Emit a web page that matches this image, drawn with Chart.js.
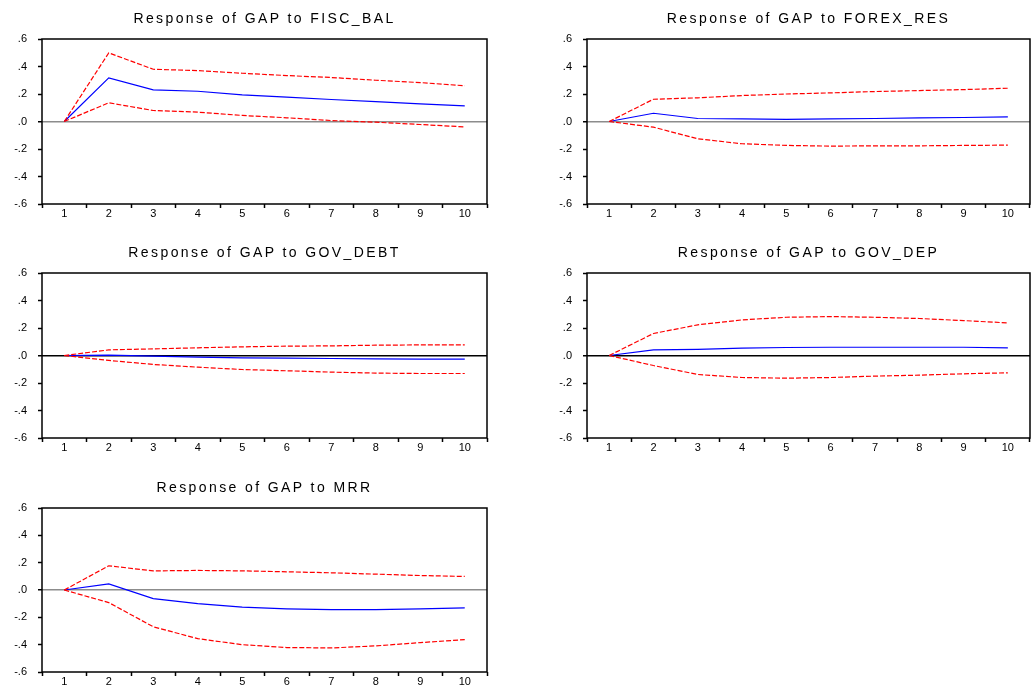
<!DOCTYPE html>
<html lang="en">
<head>
<meta charset="UTF-8">
<title>Impulse responses of GAP</title>
<script src="https://cdn.jsdelivr.net/npm/chart.js"></script>
<style>
  body { margin: 0; background: #ffffff; overflow: hidden; }
  .painel { position: absolute; }
  .titulo {
    position: absolute;
    text-align: center;
    font-family: "Liberation Sans", Arial, sans-serif;
    font-size: 14px;
    line-height: 16px;
    letter-spacing: 2.4px;
    color: #000000;
    white-space: nowrap;
  }
</style>
</head>
<body>
  <div class="painel" id="p1"><canvas id="g1"></canvas></div>
  <div class="painel" id="p2"><canvas id="g2"></canvas></div>
  <div class="painel" id="p3"><canvas id="g3"></canvas></div>
  <div class="painel" id="p4"><canvas id="g4"></canvas></div>
  <div class="painel" id="p5"><canvas id="g5"></canvas></div>

<script>
// periods after the shock
var periodos = ['1', '2', '3', '4', '5', '6', '7', '8', '9', '10'];

// response of GAP (blue) and +/- 2 S.E. bands (red)
var fiscBal    = [0, 0.317, 0.230, 0.220, 0.194, 0.177, 0.160, 0.145, 0.128, 0.114];
var fiscBalSup = [0, 0.499, 0.380, 0.370, 0.351, 0.334, 0.320, 0.300, 0.283, 0.260];
var fiscBalInf = [0, 0.136, 0.080, 0.068, 0.044, 0.027, 0.007, -0.005, -0.022, -0.039];

var forexRes    = [0, 0.060, 0.022, 0.019, 0.015, 0.019, 0.022, 0.027, 0.029, 0.034];
var forexResSup = [0, 0.162, 0.172, 0.189, 0.200, 0.208, 0.218, 0.225, 0.232, 0.242];
var forexResInf = [0, -0.041, -0.126, -0.162, -0.174, -0.179, -0.177, -0.177, -0.174, -0.172];

var govDebt    = [0, 0.002, -0.005, -0.012, -0.017, -0.019, -0.022, -0.024, -0.027, -0.027];
var govDebtSup = [0, 0.041, 0.048, 0.056, 0.063, 0.068, 0.070, 0.075, 0.077, 0.077];
var govDebtInf = [0, -0.036, -0.065, -0.085, -0.102, -0.111, -0.121, -0.128, -0.131, -0.131];

var govDep    = [0, 0.041, 0.044, 0.053, 0.058, 0.060, 0.060, 0.060, 0.060, 0.056];
var govDepSup = [0, 0.160, 0.223, 0.259, 0.278, 0.283, 0.278, 0.269, 0.254, 0.237];
var govDepInf = [0, -0.073, -0.138, -0.160, -0.165, -0.160, -0.150, -0.143, -0.133, -0.126];

var mrr    = [0, 0.044, -0.063, -0.099, -0.126, -0.138, -0.143, -0.143, -0.138, -0.131];
var mrrSup = [0, 0.177, 0.140, 0.143, 0.140, 0.133, 0.126, 0.116, 0.106, 0.099];
var mrrInf = [0, -0.092, -0.269, -0.356, -0.400, -0.421, -0.424, -0.409, -0.385, -0.363];

var titulos = [
  'Response of GAP to FISC_BAL',
  'Response of GAP to FOREX_RES',
  'Response of GAP to GOV_DEBT',
  'Response of GAP to GOV_DEP',
  'Response of GAP to MRR'
];

// plot area of each panel on the page
var paineis = [
  { div: 'p1', canvas: 'g1', titulo: titulos[0], resp: fiscBal, sup: fiscBalSup, inf: fiscBalInf, l: 42, t: 39, r: 487, b: 204, folga: 6, zero: '#8c8c8c' },
  { div: 'p2', canvas: 'g2', titulo: titulos[1], resp: forexRes, sup: forexResSup, inf: forexResInf, l: 587, t: 39, r: 1030, b: 204, folga: 2, zero: '#8c8c8c' },
  { div: 'p3', canvas: 'g3', titulo: titulos[2], resp: govDebt, sup: govDebtSup, inf: govDebtInf, l: 42, t: 273, r: 487, b: 438, folga: 6, zero: '#000000' },
  { div: 'p4', canvas: 'g4', titulo: titulos[3], resp: govDep, sup: govDepSup, inf: govDepInf, l: 587, t: 273, r: 1030, b: 438, folga: 2, zero: '#000000' },
  { div: 'p5', canvas: 'g5', titulo: titulos[4], resp: mrr, sup: mrrSup, inf: mrrInf, l: 42, t: 508, r: 487, b: 672, folga: 6, zero: '#8c8c8c' }
];

var LARG_Y = 42;
var ALT_TOPO = 36;
var ALT_X = 28;
var FONTE = '"Liberation Sans", Arial, sans-serif';

// box around the plot area
var moldura = {
  id: 'moldura',
  afterDatasetsDraw: function (chart) {
    var ctx = chart.ctx;
    var a = chart.chartArea;
    ctx.save();
    ctx.strokeStyle = '#000000';
    ctx.lineWidth = 1.5;
    ctx.strokeRect(a.left, a.top, a.right - a.left, a.bottom - a.top);
    ctx.restore();
  }
};

function rotuloY(valor) {
  var s = Number(valor).toFixed(1);
  if (s === '-0.0') s = '0.0';
  return s.replace('0.', '.');
}

function desenhar(p) {
  var caixa = document.getElementById(p.div);
  caixa.style.left = (p.l - LARG_Y) + 'px';
  caixa.style.top = (p.t - ALT_TOPO) + 'px';
  caixa.style.width = (p.r - p.l + LARG_Y + p.folga) + 'px';
  caixa.style.height = (p.b - p.t + ALT_TOPO + ALT_X) + 'px';

  var tit = document.createElement('div');
  tit.className = 'titulo';
  tit.textContent = p.titulo;
  tit.style.left = p.l + 'px';
  tit.style.width = (p.r - p.l) + 'px';
  tit.style.top = (p.t - 29) + 'px';
  document.body.appendChild(tit);

  new Chart(document.getElementById(p.canvas), {
    type: 'line',
    data: {
      labels: periodos,
      datasets: [
        { data: p.sup, borderColor: '#ff0000', borderWidth: 1.2, borderDash: [5, 2], pointRadius: 0, fill: false },
        { data: p.inf, borderColor: '#ff0000', borderWidth: 1.2, borderDash: [5, 2], pointRadius: 0, fill: false },
        { data: p.resp, borderColor: '#0000ff', borderWidth: 1.2, pointRadius: 0, fill: false }
      ]
    },
    options: {
      responsive: true,
      maintainAspectRatio: false,
      animation: false,
      layout: { padding: { left: 0, right: p.folga, top: ALT_TOPO, bottom: 0 } },
      plugins: {
        legend: { display: false },
        tooltip: { enabled: false }
      },
      scales: {
        x: {
          offset: true,
          afterFit: function (scale) { scale.height = ALT_X; },
          border: { display: false },
          grid: { offset: true, drawOnChartArea: false, tickLength: 4, tickColor: '#000000', tickWidth: 1.5 },
          ticks: {
            color: '#000000',
            padding: 0,
            autoSkip: false,
            maxRotation: 0,
            font: { family: FONTE, size: 11, lineHeight: 1 }
          }
        },
        y: {
          min: -0.6,
          max: 0.6,
          afterFit: function (scale) { scale.width = LARG_Y; },
          border: { display: false },
          grid: {
            drawOnChartArea: true,
            tickLength: 4,
            tickColor: '#000000',
            tickWidth: 1.5,
            color: function (c) { return Math.abs(c.tick.value) < 1e-9 ? p.zero : 'rgba(0,0,0,0)'; },
            lineWidth: function (c) { return Math.abs(c.tick.value) < 1e-9 ? 1.5 : 1; }
          },
          ticks: {
            stepSize: 0.2,
            color: '#000000',
            padding: 11,
            font: { family: FONTE, size: 11 },
            callback: rotuloY
          }
        }
      }
    },
    plugins: [moldura]
  });
}

for (var i = 0; i < paineis.length; i += 1) {
  desenhar(paineis[i]);
}
</script>
</body>
</html>
